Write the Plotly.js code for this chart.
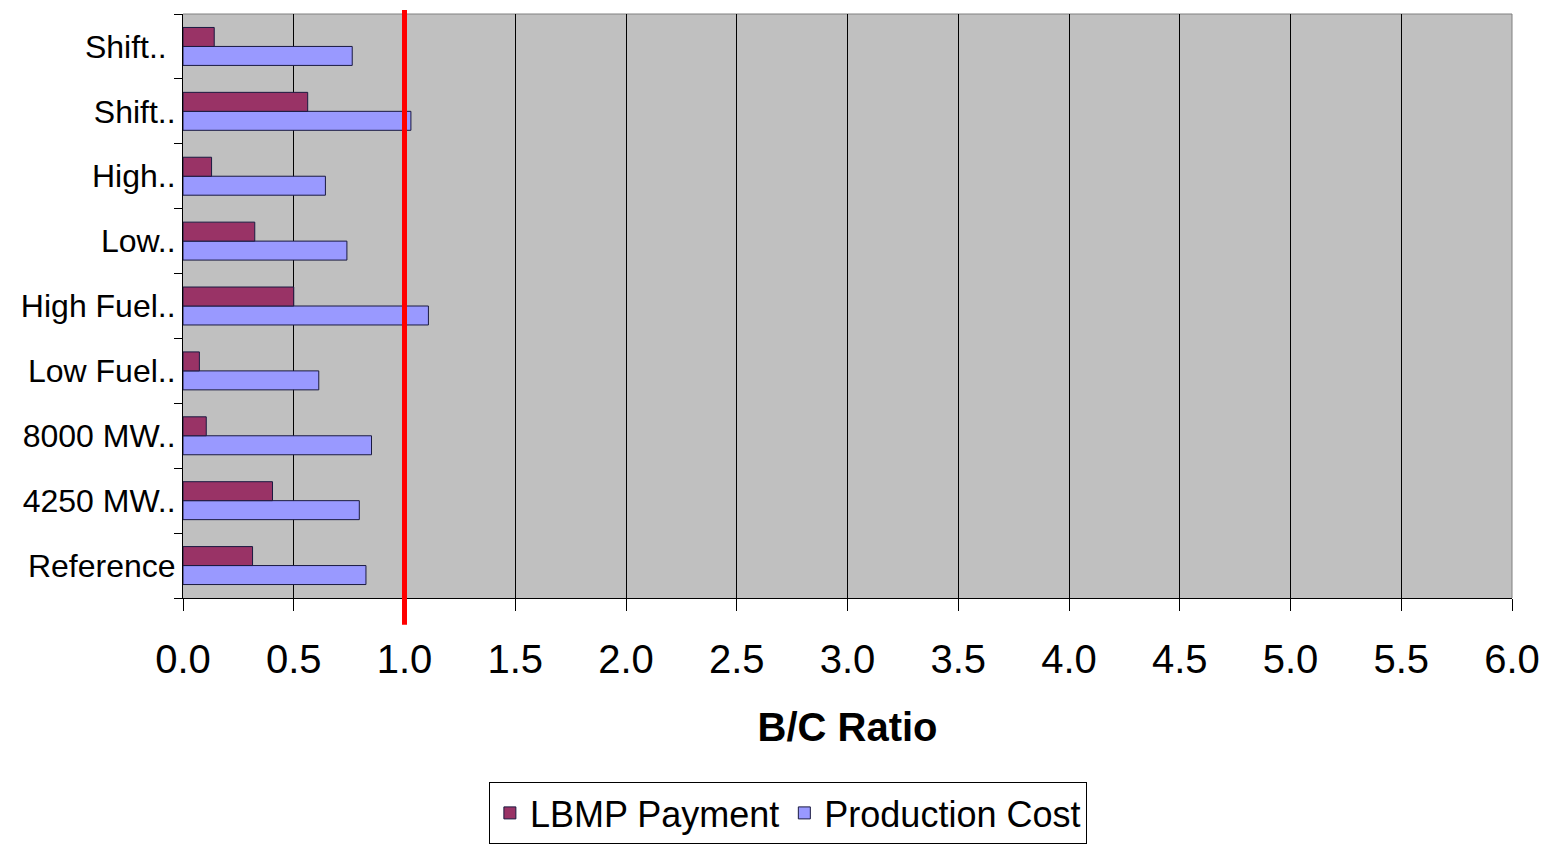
<!DOCTYPE html>
<html>
<head>
<meta charset="utf-8">
<script src="https://cdn.plot.ly/plotly-3.0.1.min.js"></script>
<style>html,body{margin:0;padding:0;background:#fff;}#chart{width:1554px;height:850px;}</style>
</head>
<body>
<div id="chart"></div>
<script>
// Categories listed bottom to top
const categories = ["Reference", "4250 MW..", "8000 MW..", "Low Fuel..", "High Fuel..", "Low..", "High..", "Shift..", "Shift.. "];
const lbmpPayment = [0.314, 0.404, 0.105, 0.074, 0.50, 0.324, 0.129, 0.563, 0.141];
const productionCost = [0.826, 0.796, 0.851, 0.613, 1.108, 0.740, 0.643, 1.029, 0.764];
const xTicks = [0, 0.5, 1.0, 1.5, 2.0, 2.5, 3.0, 3.5, 4.0, 4.5, 5.0, 5.5, 6.0];
const thresholdValue = 1.0;

const traces = [
  {
    type: "bar", orientation: "h", name: "Production Cost",
    y: categories, x: productionCost,
    marker: {color: "#9999FF", line: {color: "#1a1a40", width: 1}},
    legendrank: 2, hoverinfo: "x+name"
  },
  {
    type: "bar", orientation: "h", name: "LBMP Payment",
    y: categories, x: lbmpPayment,
    marker: {color: "#993366", line: {color: "#1a1a40", width: 1}},
    legendrank: 1, hoverinfo: "x+name"
  }
];

const layout = {
  width: 1554, height: 850,
  margin: {l: 183, r: 42, t: 14, b: 252, autoexpand: false},
  paper_bgcolor: "#ffffff",
  plot_bgcolor: "#C0C0C0",
  barmode: "group",
  bargap: 0.415,
  bargroupgap: 0,
  font: {family: "Liberation Sans, Arial, sans-serif", color: "#000"},
  xaxis: {
    range: [0, 6], tickvals: xTicks, ticktext: xTicks.map(v => v.toFixed(1)),
    showgrid: true, gridcolor: "#000", gridwidth: 1,
    zeroline: false, showline: true, linecolor: "#000", linewidth: 1,
    ticks: "outside", ticklen: 12, tickcolor: "#000",
    tickfont: {size: 40, family: "Liberation Sans, Arial, sans-serif"},
    ticklabelstandoff: 14,
    automargin: false,
    title: {text: "<b>B/C Ratio</b>", font: {size: 40, family: "Liberation Sans, Arial, sans-serif"}, standoff: 32},
    fixedrange: true
  },
  yaxis: {
    type: "category", categoryorder: "array", categoryarray: categories,
    showgrid: false, zeroline: false, showline: true, linecolor: "#000", linewidth: 1,
    ticks: "outside", ticklen: 8, tickcolor: "#000", tickson: "boundaries",
    tickfont: {size: 32, family: "Liberation Sans, Arial, sans-serif"},
    ticklabelstandoff: 0,
    automargin: false,
    fixedrange: true
  },
  showlegend: true,
  legend: {
    orientation: "h", xref: "container", yref: "container",
    x: 0.507, xanchor: "center", y: 0.08, yanchor: "top",
    bordercolor: "#000", borderwidth: 1, bgcolor: "#fff",
    font: {size: 36, family: "Liberation Sans, Arial, sans-serif"},
    itemwidth: 30, traceorder: "normal"
  },
  shapes: [
    {type: "line", xref: "paper", yref: "paper", x0: 0, x1: 1, y0: 1, y1: 1, line: {color: "#808080", width: 1}, layer: "below"},
    {type: "line", xref: "paper", yref: "paper", x0: 1, x1: 1, y0: 0, y1: 1, line: {color: "#808080", width: 1}, layer: "below"},
    {type: "line", xref: "x", yref: "paper", x0: thresholdValue, x1: thresholdValue, y0: -0.046, y1: 1.007, line: {color: "#FF0000", width: 5}}
  ]
};

Plotly.newPlot("chart", traces, layout, {displayModeBar: false, staticPlot: true});
</script>
</body>
</html>
